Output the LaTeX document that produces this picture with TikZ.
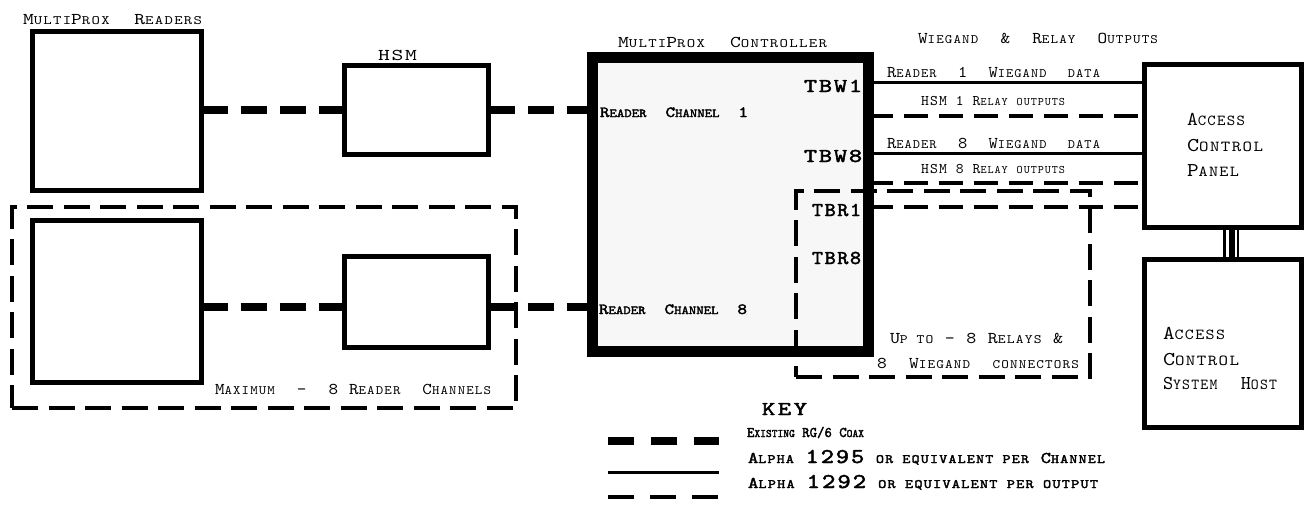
\documentclass[tikz,border=0pt]{standalone}
\usepackage{fontspec}
\usepackage{graphicx}
\newfontfamily\cm{lmmono10-regular.otf}[LetterSpace=8, AutoFakeBold=2.2]
\newfontfamily\cmn{lmmono10-regular.otf}[AutoFakeBold=2.2]
\makeatletter
\newcommand\sm[1]{{\edef\smsz{\strip@pt\dimexpr0.78\dimexpr\f@size pt\relax\relax}\fontsize{\smsz}{\smsz}\selectfont #1}}
\makeatother
\newcommand\fitw[2]{\resizebox{#1pt}{\height}{#2}}
\newcommand\fs[1]{\fontsize{#1}{#1}\selectfont}
\tikzset{
  box/.style={draw=black, line width=5pt, fill=white, inner sep=0pt, outer sep=0pt},
  ctlbox/.style={draw=black, line width=11pt, fill=black!3, inner sep=0pt, outer sep=0pt},
  grpbox/.style={draw=black, line width=4pt, dash pattern=on 26pt off 10.5pt, inner sep=0pt, outer sep=0pt},
  coax/.style={line width=8pt, dash pattern=on 26pt off 13pt},
  wdata/.style={line width=3pt},
  relay/.style={line width=4pt, dash pattern=on 24pt off 11pt},
  lbl/.style={inner sep=0pt, outer sep=0pt, anchor=base west, font=\cm\fs{16.5}},
  lblsm/.style={lbl, font=\cm\fs{14.7}},
  lblbig/.style={lbl, font=\cm\fs{19.6}},
  lblbold/.style={lbl, font=\cm\bfseries\fs{19.6}},
  lblchan/.style={lbl, font=\cmn\bfseries\fs{15.5}},
  lblkey/.style={lbl, font=\cmn\bfseries\fs{14.7}},
}
\begin{document}
\begin{tikzpicture}[x=1pt, y=-1pt]
\useasboundingbox (0,0) rectangle (1304,514);
% group box round the reader channels (drawn first)
\node[grpbox, minimum width=504pt, minimum height=201pt] (grpR) at (264,307.5) {};
% boxes
\node[box, minimum width=169pt, minimum height=159pt] (r1) at (117,111) {};
\node[box, minimum width=169pt, minimum height=162pt] (r8) at (117,301.5) {};
\node[box, minimum width=144pt, minimum height=89pt] (h1) at (416.5,109.5) {};
\node[box, minimum width=144pt, minimum height=91pt] (h8) at (416.5,301.5) {};
\node[ctlbox, minimum width=276pt, minimum height=294pt] (ctl) at (730.5,204.5) {};
\node[grpbox, minimum width=294pt, minimum height=186pt] (grpO) at (943,284) {};
\node[box, minimum width=157pt, minimum height=163pt] (panel) at (1223,146) {};
\node[box, minimum width=157pt, minimum height=168pt] (host) at (1223,343.5) {};
% row coordinates
\coordinate (y1) at (0,110);
\coordinate (y8) at (0,307);
\coordinate (wa) at (0,82);
\coordinate (wb) at (0,116);
\coordinate (wc) at (0,153);
\coordinate (wd) at (0,183);
\coordinate (we) at (0,207);
\coordinate (dbl) at (1231,0);
% coax connectors
\draw[coax] (r1.east |- y1) -- (h1.west |- y1);
\draw[coax] (h1.east |- y1) -- (ctl.west |- y1);
\draw[coax] (r8.east |- y8) -- (h8.west |- y8);
\draw[coax] (h8.east |- y8) -- (ctl.west |- y8);
% wiegand and relay outputs
\draw[wdata] (ctl.east |- wa) -- (panel.west |- wa);
\draw[relay] (ctl.east |- wb) -- (panel.west |- wb);
\draw[wdata] (ctl.east |- wc) -- (panel.west |- wc);
\draw[relay] (ctl.east |- wd) -- (panel.west |- wd);
\draw[relay] (ctl.east |- we) -- (panel.west |- we);
% panel to host link
\draw[line width=16pt] (panel.south -| dbl) -- (host.north -| dbl);
\draw[white, line width=2.8pt] ([xshift=-3.4pt, yshift=-2.5pt]panel.south -| dbl) -- ([xshift=-3.4pt, yshift=2.5pt]host.north -| dbl);
\draw[white, line width=1.6pt] ([xshift=4.8pt, yshift=-2.5pt]panel.south -| dbl) -- ([xshift=4.8pt, yshift=2.5pt]host.north -| dbl);
% labels
\node[lbl] (tReaders) at (23,24) {\fitw{179}{M\sm{ULTI}P\sm{ROX}~~R\sm{EADERS}}};
\node[lbl] (tHSM) at (378,60) {\fitw{39}{HSM}};
\node[lbl] (tCtl) at (618,47) {\fitw{209}{M\sm{ULTI}P\sm{ROX}~~C\sm{ONTROLLER}}};
\node[lbl] (tWR) at (918,43) {\fitw{240}{W\sm{IEGAND}~~\&~~R\sm{ELAY}~~O\sm{UTPUTS}}};
\node[lbl] (tW1) at (887,77) {\fitw{213}{R\sm{EADER}~~1~~W\sm{IEGAND}~~\sm{DATA}}};
\node[lblsm] (tR1) at (921,105) {\fitw{144}{HSM~1~R\sm{ELAY}~\sm{OUTPUTS}}};
\node[lbl] (tW8) at (887,148) {\fitw{213}{R\sm{EADER}~~8~~W\sm{IEGAND}~~\sm{DATA}}};
\node[lblsm] (tR8) at (921,173) {\fitw{144}{HSM~8~R\sm{ELAY}~\sm{OUTPUTS}}};
\node[lblbig] (tP1) at (1187,125) {\fitw{58}{A\sm{CCESS}}};
\node[lblbig] (tP2) at (1187,151) {\fitw{76}{C\sm{ONTROL}}};
\node[lblbig] (tP3) at (1187,176) {\fitw{52}{P\sm{ANEL}}};
\node[lblbig] (tH1) at (1163,339) {\fitw{62}{A\sm{CCESS}}};
\node[lblbig] (tH2) at (1163,365) {\fitw{76}{C\sm{ONTROL}}};
\node[lblbig] (tH3) at (1163,389) {\fitw{114}{S\sm{YSTEM}~~H\sm{OST}}};
\node[lblbold] (tTBW1) at (804,92) {\fitw{58}{TBW1}};
\node[lblbold] (tTBW8) at (804,162) {\fitw{58}{TBW8}};
\node[lblbold] (tTBR1) at (812,216) {\fitw{49}{TBR1}};
\node[lblbold] (tTBR8) at (812,264) {\fitw{49}{TBR8}};
\node[lblchan] (tC1) at (600,117) {\fitw{148}{R\sm{EADER}~~C\sm{HANNEL}~~1}};
\node[lblchan] (tC8) at (599,314) {\fitw{148}{R\sm{EADER}~~C\sm{HANNEL}~~8}};
\node[lbl] (tUp) at (890,343) {\fitw{173}{U\sm{P~TO}~-~8~R\sm{ELAYS}~\&}};
\node[lbl] (tConn) at (877,368) {\fitw{202}{8~~W\sm{IEGAND}~~\sm{CONNECTORS}}};
\node[lbl] (tMax) at (215,394) {\fitw{276}{M\sm{AXIMUM}~~-~~8~R\sm{EADER}~~C\sm{HANNELS}}};
% key
\node[lblbold] (tKey) at (762,415) {\fitw{45}{K\hspace{2pt}E\hspace{2pt}Y}};
\coordinate (k1a) at (608,441); \coordinate (k1b) at (719,441);
\coordinate (k2a) at (608,472); \coordinate (k2b) at (719,472);
\coordinate (k3a) at (608,497); \coordinate (k3b) at (719,497);
\draw[coax, dash pattern=on 26pt off 17pt] (k1a) -- (k1b);
\draw[wdata] (k2a) -- (k2b);
\draw[relay, dash pattern=on 26pt off 16pt] (k3a) -- (k3b);
\node[lblkey] (tK1) at (747,437) {\fitw{117}{E\sm{XISTING}~RG/6~C\sm{OAX}}};
\node[lblkey, font=\cm\bfseries\fs{16.4}] (tK2) at (748,463) {\fitw{357}{A\sm{LPHA}~{\fs{21}1295}~\sm{OR~EQUIVALENT~PER}~C\sm{HANNEL}}};
\node[lblkey, font=\cm\bfseries\fs{16.4}] (tK3) at (748,488) {\fitw{350}{A\sm{LPHA}~{\fs{21}1292}~\sm{OR~EQUIVALENT~PER~OUTPUT}}};
\end{tikzpicture}
\end{document}
